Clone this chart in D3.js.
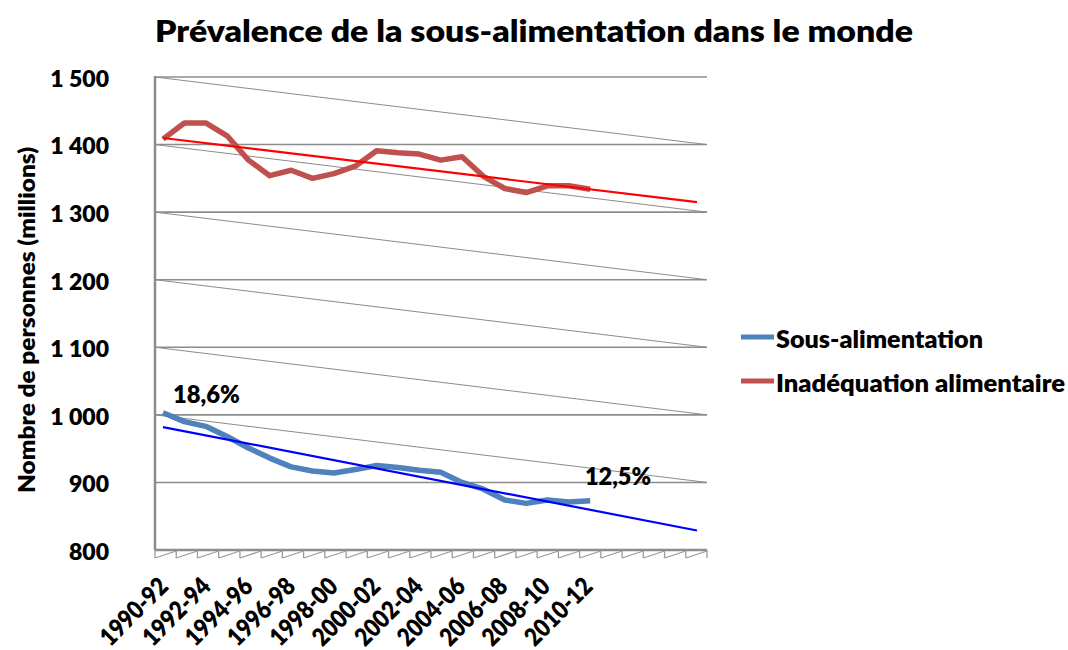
<!DOCTYPE html>
<html>
<head>
<meta charset="utf-8">
<script src="https://cdn.jsdelivr.net/npm/d3@7"></script>
<style>
  body { margin: 0; background: #fff; }
  svg text { font-family: "Lato", "Noto Sans", sans-serif; font-weight: 800; fill: #000; }
</style>
</head>
<body>
<svg id="chart" width="1068" height="650"></svg>
<script>
// periods shown on the x axis (3-year averages)
const periods = ["1990-92", "1991-93", "1992-94", "1993-95", "1994-96", "1995-97", "1996-98",
  "1997-99", "1998-00", "1999-01", "2000-02", "2001-03", "2002-04", "2003-05", "2004-06",
  "2005-07", "2006-08", "2007-09", "2008-10", "2009-11", "2010-12"];
// empty slots the trend lines are projected into
const forecastSlots = ["+1", "+2", "+3", "+4", "+5"];

// millions of people
const sousAlimentation = [1003, 990, 983, 968, 951, 936, 923, 917, 914, 919, 925,
  922, 918, 915, 900, 890, 874, 869, 874, 871, 873];
const inadequation = [1408, 1432, 1432, 1413, 1377, 1354, 1362, 1350, 1357, 1368, 1391,
  1388, 1386, 1377, 1382, 1353, 1335, 1329, 1339, 1339, 1334];

const yTicks = [800, 900, 1000, 1100, 1200, 1300, 1400, 1500];
const annotations = [
  { text: "18,6%", period: "1990-92", value: 1003 },
  { text: "12,5%", period: "2010-12", value: 873 },
];
const series = [
  { name: "Sous-alimentation", values: sousAlimentation, color: "#4F81BD", trend: "#0000FF" },
  { name: "Inadéquation alimentaire", values: inadequation, color: "#C0504D", trend: "#FF0000" },
];

const svg = d3.select("#chart");
const plot = { left: 155, right: 707, top: 77, bottom: 550 };
const allCats = periods.concat(forecastSlots);

const fr = d3.formatLocale({ decimal: ",", thousands: " ", grouping: [3], currency: ["", " €"] });

const xBand = d3.scaleBand().domain(allCats).range([plot.left, plot.right]);
// the 3d plot area puts the lines a bit behind the tick slots
const x = d3.scalePoint().domain(allCats).range([163, 697]);
const y = d3.scaleLinear().domain([800, 1500]).range([plot.bottom, plot.top]);

// squeeze text to a given width (no Calibri here)
function fitWidth(sel, w) {
  sel.attr("textLength", w).attr("lengthAdjust", "spacingAndGlyphs");
}

// title
svg.append("text")
  .attr("x", 155).attr("y", 42)
  .style("font-size", "30px")
  .text("Prévalence de la sous-alimentation dans le monde")
  .call(fitWidth, 758);

// gridlines: flat ones and the slanted "back wall" ones
const grid = svg.append("g").attr("stroke", "#8c8c8c").attr("fill", "none");
grid.selectAll(".h").data(yTicks.slice(1)).join("line")
  .attr("class", "h")
  .attr("x1", plot.left).attr("x2", plot.right)
  .attr("y1", d => y(d)).attr("y2", d => y(d))
  .attr("stroke-width", 1.6);
grid.selectAll(".s").data(yTicks.slice(2)).join("line")
  .attr("class", "s")
  .attr("x1", plot.left).attr("x2", plot.right)
  .attr("y1", d => y(d)).attr("y2", d => y(d - 100))
  .attr("stroke-width", 1);

// axes lines
svg.append("line").attr("x1", plot.left).attr("x2", plot.left).attr("y1", plot.top - 1).attr("y2", plot.bottom)
  .attr("stroke", "#8c8c8c").attr("stroke-width", 2.5);
svg.append("line").attr("x1", plot.left).attr("x2", plot.right).attr("y1", plot.bottom).attr("y2", plot.bottom)
  .attr("stroke", "#8c8c8c").attr("stroke-width", 2.5);

// saw-tooth floor ticks
const edges = allCats.map(c => xBand(c)).concat([plot.right]);
const ticks = svg.append("g").attr("stroke", "#9a9a9a").attr("stroke-width", 1.3).attr("fill", "none");
ticks.selectAll(".v").data(edges).join("line")
  .attr("class", "v")
  .attr("x1", d => d).attr("x2", d => d)
  .attr("y1", plot.bottom).attr("y2", plot.bottom + 8);
ticks.selectAll(".d").data(edges.slice(0, -1)).join("line")
  .attr("class", "d")
  .attr("x1", d => d).attr("y1", plot.bottom + 8)
  .attr("x2", (d, i) => edges[i + 1]).attr("y2", plot.bottom + 1);

// y axis labels
const yAxis = svg.append("g")
  .attr("transform", `translate(${plot.left},2)`)
  .call(d3.axisLeft(y).tickValues(yTicks).tickSize(0).tickPadding(46).tickFormat(fr.format(",")));
yAxis.select(".domain").remove();
yAxis.selectAll("text").style("font-size", "23px").attr("font-family", null).attr("fill", "#000");

svg.append("text")
  .attr("transform", "translate(35,320) rotate(-90)")
  .attr("text-anchor", "middle")
  .style("font-size", "23px")
  .text("Nombre de personnes (millions)")
  .call(fitWidth, 346);

// x labels, every other period
svg.append("g").selectAll("text")
  .data(periods.filter((d, i) => i % 2 === 0))
  .join("text")
  .attr("text-anchor", "end")
  .attr("transform", d => `translate(${xBand(d) + xBand.bandwidth() / 2 + 4},588) rotate(-45)`)
  .style("font-size", "25px")
  .text(d => d)
  .call(fitWidth, 84);

// least squares trend, projected over the forecast slots
function trend(values) {
  const mx = d3.mean(values, (d, i) => i), my = d3.mean(values);
  const sxy = d3.sum(values, (d, i) => (i - mx) * (d - my));
  const sxx = d3.sum(values, (d, i) => (i - mx) * (i - mx));
  const b = sxy / sxx, a = my - b * mx;
  return [0, allCats.length - 1].map(i => ({ cat: allCats[i], v: a + b * i }));
}

const line = d3.line().x(d => x(d.cat)).y(d => y(d.v));

series.forEach(s => {
  const pts = s.values.map((v, i) => ({ cat: periods[i], v }));
  svg.append("path").datum(pts)
    .attr("d", line)
    .attr("fill", "none")
    .attr("stroke", s.color)
    .attr("stroke-width", 5.5)
    .attr("stroke-linejoin", "round");
});
series.forEach(s => {
  svg.append("path").datum(trend(s.values))
    .attr("d", line)
    .attr("fill", "none")
    .attr("stroke", s.trend)
    .attr("stroke-width", 2.2);
});

// percentages
svg.append("text").attr("x", 173).attr("y", 403)
  .style("font-size", "24px").text(annotations[0].text).call(fitWidth, 67);
svg.append("text").attr("x", 585).attr("y", 485)
  .style("font-size", "24px").text(annotations[1].text).call(fitWidth, 66);

// legend
const legend = svg.append("g").selectAll("g").data(series).join("g")
  .attr("transform", (d, i) => `translate(741,${337 + i * 44})`);
legend.append("line").attr("x1", 0).attr("x2", 33)
  .attr("stroke", d => d.color).attr("stroke-width", 5);
legend.append("text").attr("x", 35).attr("y", 11)
  .style("font-size", "25px")
  .text(d => d.name)
  .each(function (d, i) { d3.select(this).call(fitWidth, i === 0 ? 207 : 289); });
</script>
</body>
</html>
